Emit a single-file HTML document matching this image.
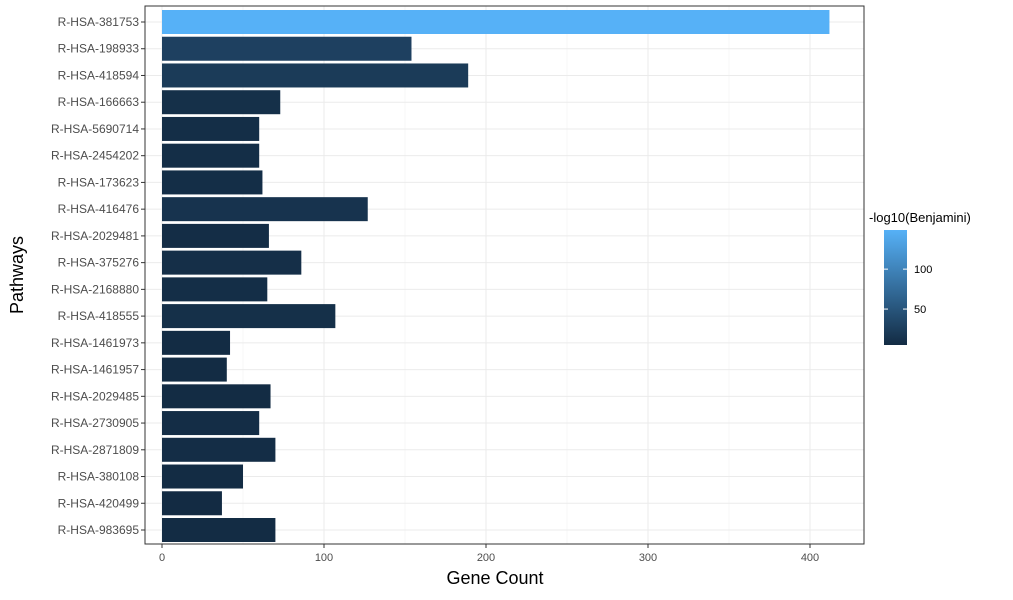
<!DOCTYPE html>
<html><head><meta charset="utf-8"><style>
body{margin:0;background:#fff;font-family:"Liberation Sans",Arial,sans-serif}
</style></head><body>
<svg id="chart" width="1013" height="595" xmlns="http://www.w3.org/2000/svg">
<defs><linearGradient id="cb" x1="0" y1="1" x2="0" y2="0">
<stop offset="0" stop-color="#132B43"/><stop offset="1" stop-color="#56B1F7"/></linearGradient></defs>
<g id="grid"></g><g id="bars"></g><g id="axes"></g>
<text x="495" y="584" font-size="18" text-anchor="middle">Gene Count</text>
<text transform="translate(23,275) rotate(-90)" font-size="18" text-anchor="middle">Pathways</text>
<g>
<text x="869" y="222" font-size="13">-log10(Benjamini)</text>
<rect x="884" y="230" width="23" height="115" fill="url(#cb)"/>
<g id="legticks"></g>
</g>
</svg>
<script>
const categories=["R-HSA-381753","R-HSA-198933","R-HSA-418594","R-HSA-166663","R-HSA-5690714","R-HSA-2454202","R-HSA-173623","R-HSA-416476","R-HSA-2029481","R-HSA-375276","R-HSA-2168880","R-HSA-418555","R-HSA-1461973","R-HSA-1461957","R-HSA-2029485","R-HSA-2730905","R-HSA-2871809","R-HSA-380108","R-HSA-420499","R-HSA-983695"];
const geneCount=[412,154,189,73,60,60,62,127,66,86,65,107,42,40,67,60,70,50,37,70];
const negLogBenj=[149,28,22,10,8,8,8,14,7,9,8,10,6,6,6,7,7,6,5,6];
const xTicks=[0,100,200,300,400];
const legTicks=[50,100];
const cMin=5,cMax=149;
const ns="http://www.w3.org/2000/svg";
const L=145,R=864,T=6,B=544;
const x=v=>162+v*1.62;
const band=(530-22)/(categories.length-1);
const y=i=>22+band*i;
function mk(tag,attrs,parent){const e=document.createElementNS(ns,tag);for(const k in attrs)e.setAttribute(k,attrs[k]);parent.appendChild(e);return e;}
function col(v){const t=Math.max(0,Math.min(1,(v-cMin)/(cMax-cMin)));const a=[0x13,0x2B,0x43],b=[0x56,0xB1,0xF7];return "rgb("+a.map((c,i)=>Math.round(c+(b[i]-c)*t)).join(",")+")";}
const g=document.getElementById('grid'),bg=document.getElementById('bars'),ax=document.getElementById('axes');
for(let i=0;i<xTicks.length-1;i++){const e=mk('line',{x1:x(xTicks[i]+50),x2:x(xTicks[i]+50),y1:T,y2:B,stroke:'#f2f2f2','stroke-width':0.6},g);

}
xTicks.forEach(v=>{const e=mk('line',{x1:x(v),x2:x(v),y1:T,y2:B,stroke:'#ebebeb','stroke-width':1},g);


const t=mk('text',{x:x(v),y:B+17,'font-size':11,fill:'#4d4d4d','text-anchor':'middle'},ax);t.textContent=v;


mk('line',{x1:x(v),x2:x(v),y1:B,y2:B+4,stroke:'#333'},ax);});
categories.forEach((c,i)=>{const e=mk('line',{x1:L,x2:R,y1:y(i),y2:y(i),stroke:'#ebebeb'},g);


const r=mk('rect',{x:x(0),y:y(i)-12,width:geneCount[i]*1.62,height:24,fill:col(negLogBenj[i])},bg);


const t=mk('text',{x:L-6,y:y(i)+4,'font-size':12,fill:'#4d4d4d','text-anchor':'end'},ax);t.textContent=c;


mk('line',{x1:L-4,x2:L,y1:y(i),y2:y(i),stroke:'#333'},ax);});
const fr=mk('rect',{x:L,y:T,width:R-L,height:B-T,fill:'none',stroke:'#333','stroke-width':1},ax);


const lt=document.getElementById('legticks');
legTicks.forEach(v=>{const yy=345-(v-cMin)/(cMax-cMin)*115;
mk('line',{x1:884,x2:888,y1:yy,y2:yy,stroke:'#fff'},lt);mk('line',{x1:903,x2:907,y1:yy,y2:yy,stroke:'#fff'},lt);
const t=mk('text',{x:914,y:yy+4,'font-size':11,fill:'#000'},lt);t.textContent=v;

});
</script>
</body></html>
